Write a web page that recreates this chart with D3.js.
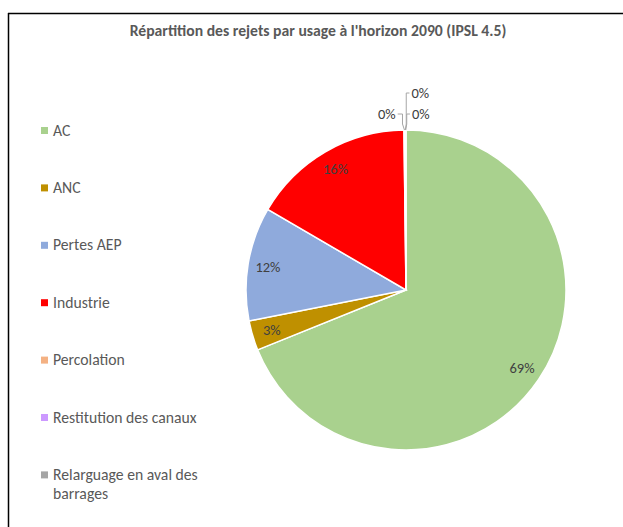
<!DOCTYPE html>
<html>
<head>
<meta charset="utf-8">
<script src="https://cdn.jsdelivr.net/npm/d3@7"></script>
<style>
  body { margin: 0; background: #fff; }
  svg { display: block; }
  text { font-family: Carlito, "Open Sans", "Liberation Sans", sans-serif; }
</style>
</head>
<body>
<div id="chart"></div>
<script>
// valeurs (%)
var categories = ["AC", "ANC", "Pertes AEP", "Industrie", "Percolation", "Restitution des canaux", "Relarguage en aval des barrages"]
var valeurs = [68.9, 3.0, 11.5, 16.4, 0.1, 0.05, 0.05]
var couleurs = ["#A9D18E", "#BF9000", "#8FAADC", "#FF0000", "#F4B183", "#CC99FF", "#A5A5A5"]
var titre = "Répartition des rejets par usage à l'horizon 2090 (IPSL 4.5)"

var width = 623,
    height = 527

var svg = d3.select("#chart")
    .append("svg")
    .attr("width", width)
    .attr("height", height)

// cadre (haut et gauche visibles)
svg.append("line").attr("x1", 8).attr("x2", width).attr("y1", 13.5).attr("y2", 13.5)
    .attr("stroke", "#000").attr("stroke-width", 1.5)
svg.append("line").attr("x1", 8.5).attr("x2", 8.5).attr("y1", 13).attr("y2", height)
    .attr("stroke", "#000").attr("stroke-width", 1.5)

svg.append("text")
    .attr("x", 318)
    .attr("y", 36)
    .attr("text-anchor", "middle")
    .attr("font-size", "15.7px")
    .attr("font-weight", "bold")
    .attr("fill", "#595959")
    .text(titre)

var data = categories.map(function (c, i) {
    return { nom: c, valeur: valeurs[i] }
})

var color = d3.scaleOrdinal()
    .domain(categories)
    .range(couleurs)

var cx = 406, cy = 290, radius = 160

var g = svg.append("g")
    .attr("transform", "translate(" + cx + "," + cy + ")")

var pie = d3.pie()
    .sort(null)
    .value(function (d) { return d.valeur })

var data_ready = pie(data)

var arc = d3.arc()
    .innerRadius(0)
    .outerRadius(radius)

var labelArc = d3.arc()
    .innerRadius(radius * 0.875)
    .outerRadius(radius * 0.875)

g.selectAll("path")
    .data(data_ready)
    .enter()
    .append("path")
    .attr("d", arc)
    .attr("fill", function (d) { return color(d.data.nom) })
    .attr("stroke", "#fff")
    .attr("stroke-width", 1.5)

var fmt = function (d) { return Math.round(d.data.valeur) + "%" }

// étiquettes dans les parts
g.selectAll("text.inside")
    .data(data_ready.filter(function (d) { return d.data.valeur >= 1 }))
    .enter()
    .append("text")
    .attr("class", "inside")
    .attr("transform", function (d) { return "translate(" + labelArc.centroid(d) + ")" })
    .attr("text-anchor", "middle")
    .attr("dy", "0.35em")
    .attr("font-size", "14.5px")
    .attr("fill", "#404040")
    .text(fmt)

// petites parts : étiquettes avec lignes de rappel
var petites = data_ready.filter(function (d) { return d.data.valeur < 1 })
// décalages des étiquettes [dx, yLigne, côté]
var rappels = [
    [-3, -176, -1],
    [2, -197, 1],
    [2, -176, 1]
]

petites.forEach(function (d, i) {
    var mid = (d.startAngle + d.endAngle) / 2
    var x0 = radius * Math.sin(mid), y0 = -radius * Math.cos(mid)
    var r = rappels[i]
    var xv = r[0] < 0 ? x0 - 2 : x0 + 1
    var pts = [[x0, y0], [xv, y0 - 6], [xv, r[1]], [xv + r[0] * 1.6, r[1]]]
    g.append("polyline")
        .attr("points", pts.join(" "))
        .attr("fill", "none")
        .attr("stroke", "#A6A6A6")
        .attr("stroke-width", 1)
    g.append("text")
        .attr("x", xv + r[0] * 1.6 + r[2] * 2)
        .attr("y", r[1])
        .attr("dy", "0.35em")
        .attr("text-anchor", r[2] < 0 ? "end" : "start")
        .attr("font-size", "14.5px")
        .attr("fill", "#404040")
        .text(fmt(d))
})

// légende
var legende = svg.append("g").attr("transform", "translate(41,130)")
var item = legende.selectAll("g")
    .data(categories)
    .enter()
    .append("g")
    .attr("transform", function (d, i) { return "translate(0," + (i * 57.4) + ")" })

item.append("rect")
    .attr("x", 0)
    .attr("y", -3)
    .attr("width", 7)
    .attr("height", 7)
    .attr("fill", function (d) { return color(d) })

item.append("text")
    .attr("x", 12)
    .attr("font-size", "15.7px")
    .attr("fill", "#595959")
    .each(function (d) {
        var t = d3.select(this)
        var lignes = d === "Relarguage en aval des barrages" ? ["Relarguage en aval des", "barrages"] : [d]
        lignes.forEach(function (l, j) {
            t.append("tspan").attr("x", 12).attr("dy", j === 0 ? "0.35em" : "1.2em").text(l)
        })
    })
</script>
</body>
</html>
